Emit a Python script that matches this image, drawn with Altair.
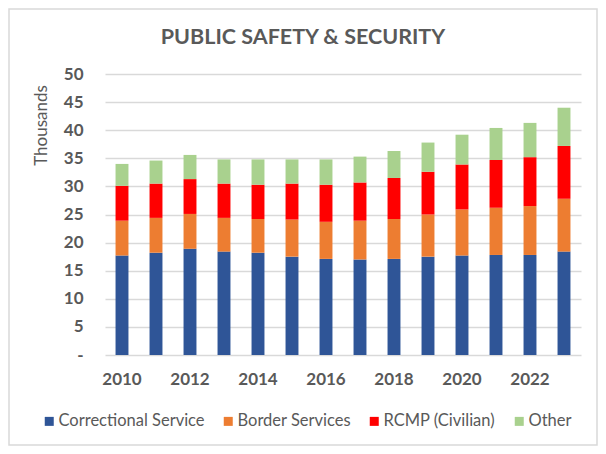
import altair as alt
import pandas as pd

years = list(range(2010, 2024))
series_names = ["Correctional Service", "Border Services", "RCMP (Civilian)", "Other"]
correctional = [17.7, 18.2, 18.9, 18.4, 18.2, 17.5, 17.1, 17.0, 17.1, 17.5, 17.7, 17.8, 17.8, 18.4]
border = [6.2, 6.2, 6.2, 6.0, 6.0, 6.6, 6.6, 6.9, 7.1, 7.5, 8.2, 8.4, 8.7, 9.4]
rcmp = [6.2, 6.1, 6.2, 6.1, 6.1, 6.4, 6.6, 6.8, 7.3, 7.6, 8.0, 8.5, 8.7, 9.4]
other = [3.9, 4.1, 4.3, 4.3, 4.5, 4.3, 4.5, 4.6, 4.8, 5.2, 5.3, 5.7, 6.1, 6.8]
colors = ["#2F5597", "#ED7D31", "#FF0000", "#A9D18E"]
x_tick_years = [2010, 2012, 2014, 2016, 2018, 2020, 2022]

rows = []
for name, vals in zip(series_names, [correctional, border, rcmp, other]):
    for i, (y, v) in enumerate(zip(years, vals)):
        rows.append({"Year": y, "Series": name, "Value": v, "Order": series_names.index(name)})
df = pd.DataFrame(rows)

GRAY = "#595959"
FONT = "Lato"
W, H = 476, 281
PL, PT, PR, PB = 97, 66, 17, 91

bars = alt.Chart(df).mark_bar().encode(
    x=alt.X("Year:O",
            scale=alt.Scale(paddingInner=0.62, paddingOuter=0.31),
            axis=alt.Axis(values=x_tick_years, title=None, labelAngle=0,
                          labelFont=FONT, labelFontWeight="bold", labelFontSize=17,
                          labelColor=GRAY, labelPadding=16, ticks=False, domain=False,
                          grid=False)),
    y=alt.Y("Value:Q", stack="zero",
            scale=alt.Scale(domain=[0, 50], nice=False),
            axis=alt.Axis(values=list(range(0, 51, 5)), title="Thousands",
                          labelExpr="datum.value == 0 ? '-' : datum.label",
                          labelFont=FONT, labelFontWeight="bold", labelFontSize=17,
                          labelColor=GRAY, labelPadding=22, ticks=False, domain=False,
                          grid=True, gridColor="#D9D9D9", gridWidth=1.4,
                          titleFont=FONT, titleFontWeight="normal", titleFontSize=17,
                          titleColor=GRAY, titleAngle=-90, titleAlign="center",
                          titleBaseline="middle", titleX=-64, titleY=51)),
    color=alt.Color("Series:N",
                    scale=alt.Scale(domain=series_names, range=colors),
                    legend=alt.Legend(title=None, orient="none", direction="horizontal",
                                      legendX=-64, legendY=339,
                                      symbolType="square", symbolSize=81,
                                      symbolStrokeWidth=0, labelFont=FONT,
                                      labelFontSize=16.5, labelColor=GRAY,
                                      labelOffset=1, columnPadding=15,
                                      labelLimit=300)),
    order=alt.Order("Order:Q", sort="ascending"),
)

frame = alt.Chart(pd.DataFrame({"a": [0]})).mark_rect(
    fillOpacity=0, stroke="#D9D9D9", strokeWidth=1.5
).encode(
    x=alt.value(-PL + 1), x2=alt.value(W + PR - 1),
    y=alt.value(-PT + 1), y2=alt.value(H + PB - 1),
)

chart = alt.layer(frame, bars).properties(
    width=W, height=H,
    autosize=alt.AutoSizeParams(type="none"),
    padding={"left": PL, "top": PT, "right": PR, "bottom": PB},
    title=alt.TitleParams("PUBLIC SAFETY & SECURITY", font=FONT, fontWeight="bold",
                          fontSize=21.5, color=GRAY, anchor="middle", frame="group",
                          baseline="alphabetic", dx=-40, dy=57, offset=0),
).configure_view(strokeWidth=0)

chart.save("out.html", embed_options={"renderer": "svg", "actions": False})
